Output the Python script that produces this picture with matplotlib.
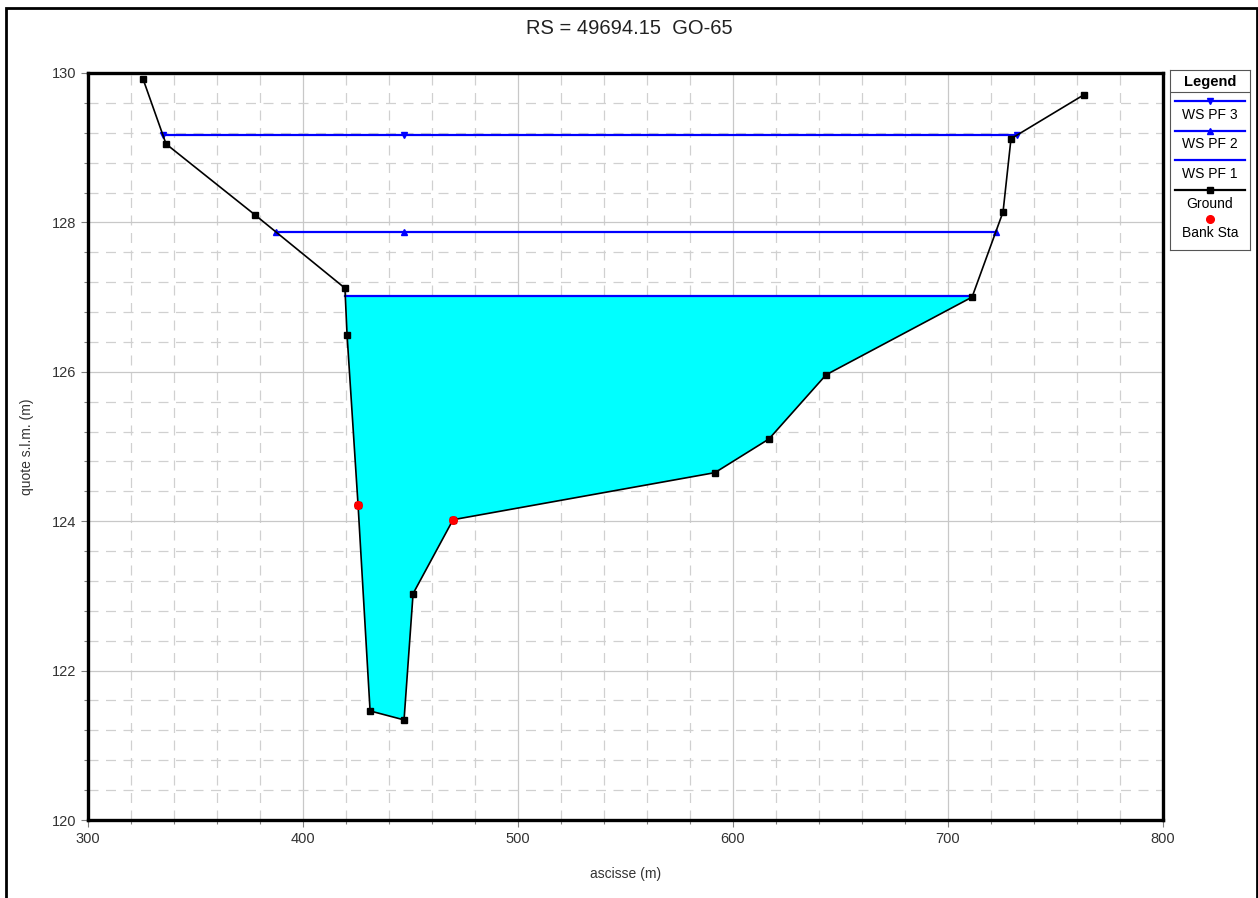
import numpy as np
import matplotlib
matplotlib.use("Agg")
import matplotlib.pyplot as plt
from matplotlib.ticker import MultipleLocator
from matplotlib.patches import Rectangle

plt.rcParams['font.family'] = ['Liberation Sans', 'DejaVu Sans']

# ---- data ----
title = "RS = 49694.15  GO-65"
ground_x = [325.6, 336.3, 377.7, 419.5, 420.5, 425.6, 431.2, 447.0, 451.2,
            469.8, 591.6, 616.7, 643.3, 711.2, 725.6, 729.3, 763.3]
ground_y = [129.92, 129.05, 128.10, 127.12, 126.49, 124.22, 121.46, 121.34, 123.03,
            124.02, 124.65, 125.10, 125.96, 127.00, 128.14, 129.12, 129.71]
bank_x = [425.6, 469.8]
bank_y = [124.22, 124.02]
ws_names = ["WS PF 3", "WS PF 2", "WS PF 1"]
ws_levels = [129.17, 127.87, 127.01]
ws_markers = ["v", "^", None]

gx = np.array(ground_x)
gy = np.array(ground_y)


def wet_extent(level):
    # left and right intersections of water level with ground
    imin = int(np.argmin(gy))
    left = None
    for i in range(imin, 0, -1):
        if gy[i - 1] >= level >= gy[i]:
            t = (level - gy[i]) / (gy[i - 1] - gy[i])
            left = gx[i] + t * (gx[i - 1] - gx[i])
            break
    right = None
    for i in range(imin, len(gx) - 1):
        if gy[i] <= level <= gy[i + 1]:
            t = (level - gy[i]) / (gy[i + 1] - gy[i])
            right = gx[i] + t * (gx[i + 1] - gx[i])
            break
    return left, right


fig = plt.figure(figsize=(12.58, 8.98), dpi=100)
ax = fig.add_axes([88 / 1258, 1 - 820 / 898, (1163 - 88) / 1258, (820 - 73) / 898])

# outer frame
fig.patches.append(Rectangle((6 / 1258, -0.01), (1257 - 6) / 1258, 1 - 8 / 898 + 0.01,
                             transform=fig.transFigure, fill=False, lw=2.0,
                             edgecolor='black'))

# fill for lowest profile
lvl = ws_levels[2]
l, r = wet_extent(lvl)
mask = (gx > l) & (gx < r)
px = np.concatenate([[l], gx[mask], [r]])
py = np.concatenate([[lvl], gy[mask], [lvl]])
ax.fill(np.concatenate([px, [r, l]]), np.concatenate([py, [lvl, lvl]]),
        color='#00ffff', zorder=2, lw=0)

thal_x = gx[np.argmin(gy)]
for name, lev, mk in zip(ws_names, ws_levels, ws_markers):
    l, r = wet_extent(lev)
    ax.plot([l, r], [lev, lev], color='#0000ff', lw=1.6, zorder=3)
    if mk:
        ax.plot([l, thal_x, r], [lev] * 3, ls='none', marker=mk, color='#0000ff',
                ms=4.5, zorder=4)

ax.plot(gx, gy, color='black', lw=1.2, marker='s', ms=4.5, zorder=5)
ax.plot(bank_x, bank_y, ls='none', marker='o', color='#ff0000', ms=5.5, zorder=6)

ax.set_xlim(300, 800)
ax.set_ylim(120, 130)
ax.xaxis.set_major_locator(MultipleLocator(100))
ax.xaxis.set_minor_locator(MultipleLocator(20))
ax.yaxis.set_major_locator(MultipleLocator(2))
ax.yaxis.set_minor_locator(MultipleLocator(0.4))
ax.grid(which='major', color='#c8c8c8', lw=0.9, ls='-', zorder=0)
ax.grid(which='minor', color='#d0d0d0', lw=0.9, ls=(0, (8, 6)), zorder=0)
ax.set_axisbelow(True)
for s in ax.spines.values():
    s.set_linewidth(2.4)
ax.tick_params(which='both', direction='out', color='#808080', labelsize=10.5,
               labelcolor='#333333', width=0.8)
ax.tick_params(which='major', length=5)
ax.tick_params(which='minor', length=3)
ax.set_xlabel("ascisse (m)", fontsize=10, color='#333333')
ax.set_ylabel("quote s.l.m. (m)", fontsize=10, color='#333333')
ax.xaxis.set_label_coords(0.5, -(867 - 820) / 747, transform=ax.transAxes)
ax.yaxis.set_label_coords(-(88 - 34) / 1075, 0.5, transform=ax.transAxes)
fig.text(0.5, 1 - 28 / 898, title, ha='center', va='center', fontsize=14.5,
         color='#222222')

# custom legend
lax = fig.add_axes([1170 / 1258, 1 - 250 / 898, 80 / 1258, 180 / 898])
lax.set_xlim(0, 80)
lax.set_ylim(250, 70)
lax.set_xticks([])
lax.set_yticks([])
for s in lax.spines.values():
    s.set_linewidth(0.8)
    s.set_color('#555555')
lax.text(40, 82, "Legend", ha='center', va='center', fontsize=10.5, fontweight='bold')
lax.plot([0, 80], [92, 92], color='#555555', lw=0.8)
entries = [("WS PF 3", '#0000ff', 'v'), ("WS PF 2", '#0000ff', '^'),
           ("WS PF 1", '#0000ff', None), ("Ground", 'black', 's')]
yline = 101
for lab, c, mk in entries:
    lax.plot([5, 75], [yline, yline], color=c, lw=1.6)
    if mk:
        lax.plot([40], [yline], marker=mk, color=c, ms=4.5, ls='none')
    lax.text(40, yline + 14, lab, ha='center', va='center', fontsize=10)
    yline += 29.5
lax.plot([40], [219], marker='o', color='#ff0000', ms=5.5, ls='none')
lax.text(40, 233, "Bank Sta", ha='center', va='center', fontsize=10)

fig.savefig("out.png", dpi=100)
